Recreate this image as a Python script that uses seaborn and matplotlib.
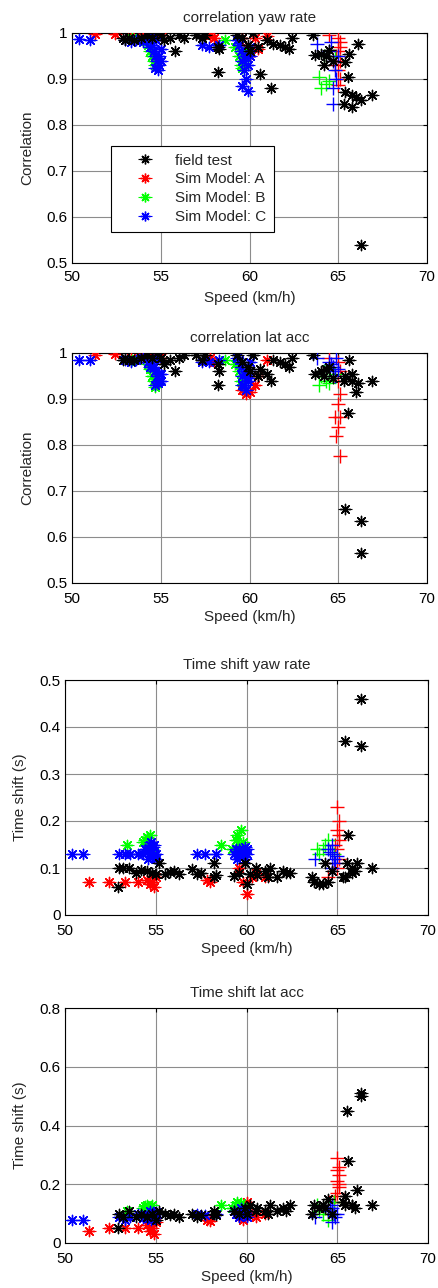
import pandas as pd
import seaborn as sns
import matplotlib.pyplot as plt
from matplotlib.lines import Line2D

sns.set_style('white')
plt.rcParams['font.family'] = ['Liberation Sans', 'DejaVu Sans']

# field test: speed and the four metrics (same runs in every panel)
field_speed = [52.9, 53.0, 53.2, 53.5, 53.9, 54.2, 54.5, 54.8, 55.0, 55.2, 55.5, 55.8, 56.0, 56.3,
               57.0, 57.3, 57.5, 58.2, 58.2, 58.3, 59.3, 59.6, 59.9, 60.0, 60.2, 60.5, 60.6, 61.0,
               61.2, 61.3, 61.7, 62.0, 62.2, 62.4, 63.6, 63.7, 64.0, 64.2, 64.5, 64.3, 64.7, 65.3,
               65.4, 65.6, 65.55, 65.4, 65.8, 65.8, 66.0, 66.1, 66.3, 66.3, 66.9]
field_corr_yaw = [0.99, 0.985, 0.99, 0.985, 0.99, 0.995, 0.99, 1.0, 0.995, 0.985, 0.99, 0.96, 0.995, 0.99,
                  0.995, 0.99, 0.995, 0.97, 0.915, 0.965, 0.995, 0.99, 0.975, 0.96, 1.0, 0.97, 0.91, 0.985,
                  0.88, 0.977, 0.973, 0.97, 0.965, 0.99, 0.995, 0.952, 0.955, 0.93, 0.963, 0.95, 0.94, 0.846,
                  0.937, 0.955, 0.904, 0.872, 0.866, 0.839, 0.86, 0.977, 0.854, 0.54, 0.866]
field_corr_lat = [0.985, 0.99, 0.985, 0.985, 0.99, 0.995, 0.99, 1.0, 0.99, 0.975, 0.985, 0.96, 0.99, 0.995,
                  0.995, 0.985, 0.995, 0.975, 0.93, 0.96, 0.995, 0.98, 0.97, 0.96, 0.995, 0.95, 0.965, 0.955,
                  0.94, 0.985, 0.98, 0.975, 0.97, 0.99, 0.995, 0.955, 0.96, 0.95, 0.97, 0.965, 0.945, 0.94,
                  0.95, 0.985, 0.87, 0.66, 0.955, 0.94, 0.915, 0.935, 0.635, 0.565, 0.94]
field_shift_yaw = [0.06, 0.10, 0.10, 0.10, 0.09, 0.095, 0.094, 0.09, 0.087, 0.11, 0.088, 0.092, 0.094, 0.088,
                   0.097, 0.087, 0.09, 0.11, 0.08, 0.085, 0.083, 0.09, 0.11, 0.066, 0.087, 0.10, 0.085, 0.094,
                   0.08, 0.10, 0.08, 0.094, 0.09, 0.09, 0.08, 0.07, 0.065, 0.066, 0.07, 0.11, 0.094, 0.08,
                   0.08, 0.17, 0.11, 0.37, 0.10, 0.09, 0.094, 0.11, 0.36, 0.46, 0.10]
field_shift_lat = [0.05, 0.10, 0.09, 0.11, 0.09, 0.10, 0.09, 0.10, 0.08, 0.11, 0.10, 0.095, 0.10, 0.09,
                   0.10, 0.09, 0.095, 0.10, 0.11, 0.095, 0.11, 0.10, 0.12, 0.10, 0.13, 0.11, 0.12, 0.11,
                   0.10, 0.13, 0.11, 0.12, 0.11, 0.13, 0.10, 0.13, 0.12, 0.13, 0.15, 0.12, 0.10, 0.14,
                   0.13, 0.28, 0.45, 0.16, 0.13, 0.13, 0.12, 0.18, 0.51, 0.50, 0.13]

# Sim Model A
a_speed = [51.3, 52.4, 53.3, 54.0, 54.5, 54.7, 54.9, 55.0, 54.8, 57.8, 58.0, 59.6, 59.8, 60.0, 60.3,
           60.5, 61.0, 64.5, 65.0, 65.1, 65.0, 65.1, 65.0, 65.1, 65.0, 64.9, 65.1, 64.8]
a_corr_yaw = [0.998, 0.998, 0.995, 0.998, 1.0, 0.998, 1.0, 0.995, 0.998, 0.995, 0.99, 0.99, 0.97, 0.95,
              0.99, 0.965, 0.993, 0.995, 0.99, 0.98, 0.96, 0.94, 0.92, 0.90, 0.887, 0.95, 0.97, 0.93]
a_corr_lat = [0.995, 0.998, 0.99, 0.998, 0.995, 1.0, 0.998, 0.99, 0.995, 0.99, 0.98, 0.92, 0.91, 0.915,
              0.93, 0.95, 0.985, 0.99, 0.98, 0.96, 0.94, 0.91, 0.89, 0.86, 0.84, 0.82, 0.775, 0.86]
a_shift_yaw = [0.07, 0.07, 0.07, 0.07, 0.075, 0.065, 0.06, 0.08, 0.07, 0.075, 0.07, 0.10, 0.07, 0.045,
               0.08, 0.09, 0.08, 0.08, 0.23, 0.20, 0.18, 0.16, 0.14, 0.12, 0.10, 0.15, 0.17, 0.11]
a_shift_lat = [0.04, 0.05, 0.05, 0.05, 0.06, 0.04, 0.03, 0.07, 0.05, 0.08, 0.075, 0.09, 0.08, 0.14,
               0.10, 0.09, 0.10, 0.10, 0.29, 0.26, 0.25, 0.23, 0.21, 0.19, 0.17, 0.16, 0.20, 0.14]

# Sim Model B
b_speed = [53.4, 54.3, 54.4, 54.5, 54.6, 54.7, 54.8, 58.6, 59.2, 59.4, 59.5, 59.6, 59.7, 59.8,
           63.9, 64.0, 64.3, 64.5, 64.8, 64.2]
b_corr_yaw = [0.99, 0.975, 0.96, 0.95, 0.94, 0.93, 0.945, 0.985, 0.97, 0.95, 0.93, 0.925, 0.94, 0.96,
              0.905, 0.88, 0.89, 0.895, 0.95, 0.95]
b_corr_lat = [0.985, 0.975, 0.965, 0.95, 0.94, 0.925, 0.935, 0.985, 0.975, 0.96, 0.94, 0.93, 0.95, 0.945,
              0.93, 0.95, 0.94, 0.935, 0.955, 0.96]
b_shift_yaw = [0.15, 0.155, 0.16, 0.165, 0.15, 0.17, 0.14, 0.15, 0.14, 0.16, 0.17, 0.15, 0.18, 0.155,
               0.14, 0.13, 0.15, 0.16, 0.13, 0.14]
b_shift_lat = [0.11, 0.12, 0.125, 0.13, 0.12, 0.115, 0.13, 0.13, 0.12, 0.13, 0.14, 0.125, 0.135, 0.12,
               0.13, 0.11, 0.12, 0.08, 0.14, 0.10]

# Sim Model C
c_speed = [50.4, 51.0, 53.0, 53.3, 53.6, 54.0, 54.3, 54.5, 54.6, 54.7, 54.8, 54.9, 54.85, 55.0, 54.75,
           54.4, 54.6, 54.9, 55.0, 54.7,
           57.3, 57.7, 58.3, 59.3, 59.5, 59.6, 59.7, 59.8, 59.9, 59.75, 60.0,
           59.4, 59.9, 60.0, 59.6,
           63.8, 64.5, 64.7, 64.8, 64.9, 64.7, 64.7, 65.0, 64.6]
c_corr_yaw = [0.988, 0.985, 0.985, 0.98, 0.985, 0.98, 0.99, 0.975, 0.96, 0.95, 0.94, 0.93, 0.92, 0.965, 0.985,
              0.97, 0.99, 0.95, 0.94, 0.925,
              0.975, 0.97, 0.975, 0.985, 0.96, 0.94, 0.92, 0.90, 0.875, 0.95, 0.97,
              0.975, 0.93, 0.95, 0.885,
              0.977, 0.96, 0.94, 0.92, 0.90, 0.88, 0.846, 0.95, 0.98]
c_corr_lat = [0.985, 0.985, 0.985, 0.98, 0.985, 0.99, 0.98, 0.975, 0.97, 0.96, 0.95, 0.94, 0.935, 0.955, 0.99,
              0.97, 0.985, 0.955, 0.94, 0.93,
              0.98, 0.98, 0.985, 0.99, 0.97, 0.95, 0.93, 0.92, 0.94, 0.96, 0.98,
              0.985, 0.945, 0.96, 0.93,
              0.99, 0.98, 0.97, 0.95, 0.99, 0.96, 0.97, 0.965, 0.975]
c_shift_yaw = [0.13, 0.13, 0.13, 0.13, 0.13, 0.13, 0.13, 0.135, 0.14, 0.15, 0.125, 0.13, 0.145, 0.12, 0.155,
               0.14, 0.12, 0.15, 0.13, 0.125,
               0.13, 0.13, 0.13, 0.13, 0.12, 0.14, 0.135, 0.125, 0.145, 0.13, 0.13,
               0.14, 0.12, 0.14, 0.13,
               0.12, 0.14, 0.13, 0.12, 0.11, 0.15, 0.10, 0.125, 0.135]
c_shift_lat = [0.08, 0.08, 0.09, 0.08, 0.09, 0.10, 0.085, 0.09, 0.10, 0.11, 0.095, 0.085, 0.105, 0.09, 0.08,
               0.09, 0.085, 0.10, 0.105, 0.09,
               0.10, 0.095, 0.10, 0.11, 0.10, 0.09, 0.12, 0.105, 0.095, 0.10, 0.11,
               0.10, 0.11, 0.09, 0.105,
               0.09, 0.11, 0.12, 0.10, 0.09, 0.13, 0.07, 0.10, 0.12]

labels = ['field test', 'Sim Model: A', 'Sim Model: B', 'Sim Model: C']
colors = ['black', '#ff0000', '#00ff00', '#0000ff']

series = [
    (field_speed, field_corr_yaw, field_corr_lat, field_shift_yaw, field_shift_lat),
    (a_speed, a_corr_yaw, a_corr_lat, a_shift_yaw, a_shift_lat),
    (b_speed, b_corr_yaw, b_corr_lat, b_shift_yaw, b_shift_lat),
    (c_speed, c_corr_yaw, c_corr_lat, c_shift_yaw, c_shift_lat),
]
frames = []
for label, s in zip(labels, series):
    df = pd.DataFrame({'speed': s[0], 'corr_yaw': s[1], 'corr_lat': s[2],
                       'shift_yaw': s[3], 'shift_lat': s[4]})
    df['series'] = label
    frames.append(df)
data = pd.concat(frames, ignore_index=True)
# the simulated runs around 65 km/h were drawn with plus markers
data['plus'] = (data['series'] != 'field test') & (data['speed'] > 63.5)

# column, title, ylabel, ylim, yticks, yticklabels, box (px), xtick pad, xlabel pad
panels = [
    ('corr_yaw', 'correlation yaw rate', 'Correlation', (0.5, 1.0), [0.5, 0.6, 0.7, 0.8, 0.9, 1.0],
     ['0.5', '0.6', '0.7', '0.8', '0.9', '1'], [72, 33, 427, 263], 5.0, 5),
    ('corr_lat', 'correlation lat acc', 'Correlation', (0.5, 1.0), [0.5, 0.6, 0.7, 0.8, 0.9, 1.0],
     ['0.5', '0.6', '0.7', '0.8', '0.9', '1'], [72, 353, 427, 583], 6.5, 3),
    ('shift_yaw', 'Time shift yaw rate', 'Time shift (s)', (0, 0.5), [0, 0.1, 0.2, 0.3, 0.4, 0.5],
     ['0', '0.1', '0.2', '0.3', '0.4', '0.5'], [65, 680, 428, 915], 6.5, 3),
    ('shift_lat', 'Time shift lat acc', 'Time shift (s)', (0, 0.8), [0, 0.2, 0.4, 0.6, 0.8],
     ['0', '0.2', '0.4', '0.6', '0.8'], [65, 1008, 428, 1243], 6.5, 3),
]

W, H = 438, 1288
fs = 11
fig = plt.figure(figsize=(W / 100, H / 100), dpi=100)
star = (8, 2, 0)

draw_order = ['Sim Model: A', 'Sim Model: B', 'Sim Model: C', 'field test']
color_map = dict(zip(labels, colors))

for i, (col, title, ylabel, ylim, yticks, yticklabels, box, xpad, xlpad) in enumerate(panels):
    l, t, r, b = box
    ax = fig.add_axes([l / W, 1 - b / H, (r - l) / W, (b - t) / H])
    ax.grid(True, color='#8c8c8c', linewidth=0.8)
    ax.set_axisbelow(True)

    for name in draw_order:
        sub = data[data['series'] == name]
        stars = sub[~sub['plus']]
        plus = sub[sub['plus']]
        c = color_map[name]
        sns.scatterplot(data=stars, x='speed', y=col, ax=ax, color=c, marker='_',
                        s=95, linewidth=0.8, legend=False, zorder=3)
        sns.scatterplot(data=stars, x='speed', y=col, ax=ax, color=c, marker=star,
                        s=55, linewidth=1.0, legend=False, zorder=3)
        if len(plus):
            sns.scatterplot(data=plus, x='speed', y=col, ax=ax, color=c, marker='+',
                            s=95, linewidth=1.0, legend=False, zorder=3)

    ax.set_xlim(50, 70)
    ax.set_ylim(*ylim)
    ax.set_xticks([50, 55, 60, 65, 70])
    ax.set_xticklabels(['50', '55', '60', '65', '70'])
    ax.set_yticks(yticks)
    ax.set_yticklabels(yticklabels)
    ax.tick_params(direction='in', length=3, width=0.8, top=True, right=True,
                   labelsize=fs, colors='black', pad=3)
    ax.tick_params(axis='x', pad=xpad)
    for sp in ax.spines.values():
        sp.set_color('black')
        sp.set_linewidth(0.8)
    ax.set_xlabel('Speed (km/h)', fontsize=fs, labelpad=xlpad)
    ax.set_ylabel(ylabel, fontsize=fs, labelpad=9)
    ax.set_title(title, fontsize=fs, pad=8)

    if i == 0:
        handles = [(Line2D([], [], color=c, marker='_', markersize=10, linestyle='none',
                           markeredgewidth=0.8),
                    Line2D([], [], color=c, marker=star, markersize=7, linestyle='none',
                           markeredgewidth=1.0)) for c in colors]
        leg = ax.legend(handles, labels, loc='upper left', bbox_to_anchor=(0.11, 0.509),
                        fontsize=fs, frameon=True, fancybox=False, framealpha=1,
                        edgecolor='black', handlelength=3.4, handletextpad=0.3,
                        borderpad=0.5, labelspacing=0.32, borderaxespad=0)
        leg.get_frame().set_linewidth(0.8)
        leg.set_zorder(5)

fig.savefig('out.png', dpi=100)
